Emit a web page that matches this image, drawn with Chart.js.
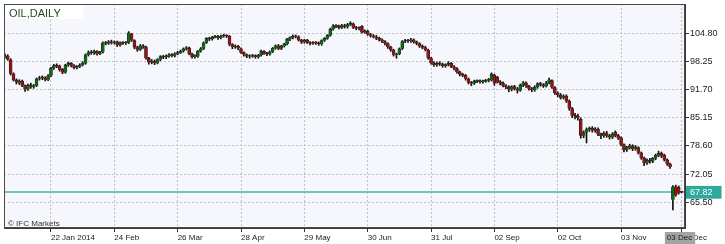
<!DOCTYPE html>
<html>
<head>
<meta charset="utf-8">
<title>OIL,DAILY</title>
<script src="https://cdn.jsdelivr.net/npm/chart.js@4.4.1/dist/chart.umd.min.js"></script>
<style>
  html, body { margin: 0; padding: 0; background: #ffffff; }
  canvas { display: block; }
</style>
</head>
<body>
<canvas id="oil" width="725" height="244"></canvas>
<script>
// daily candles, 30 Dec 2013 .. 03 Dec 2014
const opens = [
  99.2, 99.5, 98.6, 95.4, 93.9, 93.3, 93.7, 92.6, 91.8, 92.8,
  92.3, 92.6, 94.2, 94.5, 94.4, 94.0, 94.9, 96.7, 97.4, 97.2,
  96.4, 95.7, 97.4, 97.8, 97.3, 96.8, 97.0, 97.4, 97.8, 99.8,
  100.4, 100.2, 100.6, 100.0, 100.4, 102.6, 102.4, 102.8, 102.6, 102.8,
  102.0, 102.6, 102.5, 102.6, 104.6, 103.1, 101.5, 101.0, 101.9, 101.6,
  99.0, 98.0, 98.3, 97.9, 98.7, 99.4, 99.2, 99.5, 99.8, 99.6,
  100.0, 100.3, 100.6, 101.2, 101.4, 100.0, 99.3, 99.4, 100.6, 101.2,
  102.6, 103.6, 103.4, 103.9, 104.0, 103.7, 104.1, 104.3, 104.1, 102.2,
  101.6, 101.8, 101.2, 100.3, 99.8, 99.4, 99.4, 99.6, 99.3, 99.7,
  100.6, 100.1, 99.9, 100.5, 101.3, 101.9, 101.2, 101.8, 102.3, 103.4,
  103.8, 104.1, 104.0, 103.2, 102.7, 103.2, 102.6, 102.4, 102.6, 102.5,
  102.3, 103.1, 103.6, 104.3, 105.8, 106.5, 106.4, 106.1, 106.6, 106.3,
  106.8, 107.0, 106.1, 105.9, 106.4, 105.0, 105.3, 104.5, 104.2, 104.0,
  103.6, 103.3, 102.9, 102.4, 101.6, 100.9, 99.8, 100.0, 101.2, 102.9,
  103.1, 103.0, 103.3, 102.8, 102.4, 101.8, 101.5, 100.9, 99.0, 97.9,
  97.4, 97.8, 97.6, 97.2, 97.5, 97.8, 97.0, 96.6, 95.8, 95.2,
  95.0, 94.2, 93.3, 93.1, 93.6, 93.7, 93.5, 93.6, 93.8, 93.9,
  95.0, 94.6, 93.5, 93.2, 92.6, 92.3, 91.7, 92.4, 91.9, 91.5,
  92.7, 93.3, 92.5, 91.9, 91.6, 92.3, 93.1, 92.8, 92.5, 93.3,
  93.8, 92.2, 90.9, 90.4, 89.8, 90.2, 89.0, 87.3, 85.6, 85.5,
  84.8, 81.0, 81.7, 82.4, 82.7, 82.2, 82.5, 81.3, 80.9, 81.6,
  81.0, 80.6, 81.8, 81.0, 80.5, 78.9, 77.6, 78.2, 78.6, 77.9,
  78.2, 77.0, 75.8, 74.6, 75.3, 75.0, 75.7, 76.4, 76.9, 76.5,
  75.4, 74.4, 66.1, 69.1, 69.0, 67.9
];
const highs = [
  100.0, 99.8, 98.9, 95.6, 94.2, 94.0, 93.9, 92.8, 93.0, 93.2,
  92.9, 94.4, 94.8, 94.9, 94.7, 95.2, 96.9, 97.6, 97.7, 97.4,
  96.6, 97.6, 98.1, 98.0, 97.5, 97.3, 97.7, 98.2, 100.0, 100.7,
  100.8, 100.9, 100.8, 100.6, 102.8, 102.9, 103.1, 103.2, 103.0, 103.0,
  102.8, 102.9, 102.9, 105.2, 104.8, 103.3, 101.8, 102.2, 102.2, 101.8,
  99.2, 98.7, 98.6, 98.9, 99.6, 99.7, 99.8, 100.1, 100.1, 100.3,
  100.6, 100.9, 101.4, 101.7, 101.6, 100.2, 99.8, 100.8, 101.5, 102.8,
  103.8, 103.9, 104.1, 104.3, 104.3, 104.4, 104.6, 104.5, 104.3, 102.4,
  102.1, 102.0, 101.4, 100.5, 100.0, 99.8, 99.9, 99.8, 99.9, 100.9,
  100.8, 100.4, 100.7, 101.5, 102.1, 102.2, 102.0, 102.5, 103.6, 104.0,
  104.4, 104.4, 104.2, 103.4, 103.4, 103.4, 102.9, 102.9, 102.9, 102.8,
  103.3, 103.8, 104.5, 106.0, 106.8, 106.8, 106.7, 106.9, 106.9, 107.1,
  107.5, 107.2, 106.4, 106.3, 106.6, 105.6, 105.5, 104.8, 104.5, 104.3,
  103.9, 103.5, 103.1, 102.6, 101.8, 101.1, 100.2, 101.4, 103.1, 103.4,
  103.4, 103.6, 103.5, 103.0, 102.6, 102.1, 101.8, 101.1, 99.2, 98.2,
  98.1, 98.2, 97.9, 97.7, 98.2, 98.0, 97.3, 96.8, 96.0, 95.5,
  95.2, 94.4, 93.6, 93.9, 94.0, 94.0, 93.9, 94.1, 94.3, 95.6,
  95.3, 94.8, 93.8, 93.5, 92.9, 92.6, 92.6, 92.7, 92.2, 93.0,
  93.6, 93.5, 92.7, 92.2, 92.6, 93.3, 93.4, 93.1, 93.6, 94.4,
  94.0, 92.4, 91.2, 90.8, 90.5, 90.5, 89.3, 87.6, 86.2, 86.0,
  85.1, 82.1, 82.8, 83.0, 83.1, 82.9, 82.8, 81.6, 81.9, 82.0,
  81.3, 81.7, 82.1, 81.3, 80.7, 79.1, 78.5, 79.0, 78.9, 78.7,
  78.4, 77.2, 76.0, 75.6, 75.7, 75.9, 76.7, 77.4, 77.2, 76.7,
  75.6, 74.6, 69.4, 69.5, 69.3, 68.0
];
const lows = [
  99.0, 98.5, 95.1, 93.7, 93.0, 92.9, 92.4, 91.3, 91.5, 92.0,
  92.0, 92.4, 93.9, 94.0, 93.7, 93.8, 94.7, 96.4, 96.8, 96.0,
  95.4, 95.5, 97.1, 97.0, 96.5, 96.5, 96.8, 97.2, 97.6, 99.5,
  99.9, 99.9, 99.7, 99.8, 100.2, 102.1, 102.2, 102.3, 102.3, 101.7,
  101.8, 102.2, 102.2, 102.4, 102.9, 101.2, 100.6, 100.8, 101.3, 98.8,
  97.6, 97.7, 97.5, 97.7, 98.4, 98.9, 98.9, 99.2, 99.3, 99.3,
  99.8, 100.1, 100.4, 100.9, 99.8, 99.0, 99.0, 99.2, 100.4, 101.0,
  102.4, 103.1, 103.2, 103.7, 103.4, 103.5, 103.9, 103.8, 101.9, 101.2,
  101.3, 101.0, 100.1, 99.5, 99.1, 99.0, 99.2, 99.0, 99.0, 99.5,
  99.9, 99.6, 99.7, 100.3, 101.1, 101.0, 101.0, 101.6, 102.1, 103.1,
  103.5, 103.7, 103.0, 102.4, 102.5, 102.4, 102.1, 102.2, 102.2, 102.0,
  102.0, 102.9, 103.4, 104.1, 105.5, 106.1, 105.8, 105.9, 106.0, 106.0,
  106.6, 105.9, 105.6, 105.6, 104.8, 104.8, 104.3, 103.9, 103.7, 103.3,
  103.0, 102.6, 102.1, 101.3, 100.6, 99.5, 99.0, 99.8, 101.0, 102.6,
  102.7, 102.7, 102.5, 102.1, 101.5, 101.2, 100.7, 98.8, 97.6, 97.1,
  97.1, 97.3, 96.9, 96.9, 97.2, 96.8, 96.3, 95.5, 94.9, 94.7,
  93.9, 93.0, 92.6, 92.9, 93.3, 93.2, 93.2, 93.4, 93.5, 93.7,
  92.7, 93.2, 92.8, 92.3, 91.9, 91.2, 91.4, 91.6, 90.9, 91.3,
  92.4, 92.2, 91.6, 91.2, 91.3, 92.0, 92.5, 92.2, 92.3, 93.0,
  92.0, 90.6, 90.0, 89.5, 89.5, 88.7, 86.9, 85.2, 84.9, 84.6,
  80.4, 80.5, 79.3, 82.0, 81.8, 81.8, 81.0, 80.3, 80.6, 80.6,
  80.2, 80.3, 80.7, 80.1, 78.6, 77.2, 77.3, 77.9, 77.5, 77.6,
  76.7, 75.5, 74.0, 74.3, 74.6, 74.7, 75.4, 76.1, 75.9, 75.1,
  74.1, 73.4, 63.7, 66.9, 67.4, 67.7
];
const closes = [
  99.6, 98.7, 95.4, 93.9, 93.4, 93.7, 92.6, 91.7, 92.7, 92.4,
  92.6, 94.2, 94.4, 94.4, 94.0, 94.9, 96.7, 97.3, 97.1, 96.3,
  95.7, 97.4, 97.8, 97.3, 96.8, 97.0, 97.4, 97.9, 99.8, 100.3,
  100.2, 100.6, 100.0, 100.3, 102.6, 102.4, 102.8, 102.6, 102.8, 102.0,
  102.6, 102.5, 102.6, 104.9, 103.1, 101.5, 101.0, 101.9, 101.6, 99.0,
  98.0, 98.3, 97.9, 98.7, 99.4, 99.2, 99.5, 99.8, 99.6, 100.0,
  100.3, 100.6, 101.2, 101.3, 100.0, 99.3, 99.4, 100.6, 101.2, 102.6,
  103.6, 103.4, 103.9, 104.0, 103.7, 104.1, 104.3, 104.1, 102.2, 101.6,
  101.8, 101.3, 100.3, 99.8, 99.4, 99.4, 99.6, 99.3, 99.7, 100.6,
  100.1, 99.9, 100.5, 101.3, 101.9, 101.2, 101.8, 102.3, 103.4, 103.8,
  104.1, 104.0, 103.2, 102.7, 103.2, 102.6, 102.4, 102.6, 102.5, 102.3,
  103.1, 103.6, 104.3, 105.8, 106.5, 106.4, 106.1, 106.6, 106.3, 106.8,
  107.1, 106.1, 105.9, 106.0, 105.0, 105.3, 104.5, 104.2, 104.0, 103.6,
  103.3, 102.9, 102.4, 101.6, 100.9, 99.8, 99.9, 101.2, 102.9, 103.1,
  103.0, 103.3, 102.8, 102.4, 101.8, 101.5, 101.0, 99.0, 97.9, 97.4,
  97.8, 97.6, 97.2, 97.5, 97.8, 97.0, 96.6, 95.8, 95.2, 95.0,
  94.2, 93.3, 93.1, 93.6, 93.7, 93.5, 93.6, 93.8, 94.0, 95.3,
  93.2, 93.5, 93.2, 92.6, 92.3, 91.7, 92.4, 91.9, 91.5, 92.7,
  93.3, 92.5, 91.9, 91.6, 92.3, 93.1, 92.8, 92.5, 93.3, 94.0,
  92.2, 90.9, 90.4, 89.8, 90.2, 89.0, 87.3, 85.6, 85.5, 85.1,
  81.0, 81.7, 82.4, 82.7, 82.2, 82.5, 81.3, 80.9, 81.6, 81.0,
  80.6, 81.4, 81.0, 80.4, 78.9, 77.6, 78.2, 78.6, 77.9, 78.4,
  77.0, 75.8, 74.6, 75.3, 75.0, 75.7, 76.4, 76.9, 76.2, 75.4,
  74.4, 73.7, 69.1, 67.2, 67.7, 67.82
];

// x axis labels and the bar each one sits on
const tickLabels = ['22 Jan 2014', '24 Feb', '26 Mar', '28 Apr', '29 May', '30 Jun',
                    '31 Jul', '02 Sep', '02 Oct', '03 Nov', '03 Dec'];
const tickBars = [16, 38, 60, 82, 104, 126, 148, 170, 192, 214, 235];

// price axis
const priceTicks = [65.50, 72.05, 78.60, 85.15, 91.70, 98.25, 104.80];
const lastPrice = 67.82;
const lastDate = '03 Dec';

const FONT = '"Liberation Sans", Arial, sans-serif';
const UP = '#0f6a18';
const DOWN = '#9a1212';
const lastBar = closes.length - 1;

const isMarker = (c) => !!(c.tick && c.tick.marker);

const frame = {
    id: 'frame',
    beforeDraw(chart) {
        const { ctx, chartArea: a } = chart;
        ctx.save();
        ctx.fillStyle = '#f6f7fc';
        ctx.fillRect(a.left, a.top, a.right - a.left, a.bottom - a.top);
        ctx.restore();
    },
    afterDraw(chart) {
        const { ctx, chartArea: a } = chart;
        ctx.save();
        ctx.strokeStyle = '#4a4a4a';
        ctx.lineWidth = 1;
        ctx.strokeRect(a.left + 0.5, a.top + 0.5, a.right - a.left - 1, a.bottom - a.top - 1);
        // title box
        ctx.fillStyle = '#ffffff';
        ctx.fillRect(a.left + 1, a.top + 1, 78, 14);
        ctx.fillStyle = '#1f4d1f';
        ctx.font = '11px ' + FONT;
        ctx.textBaseline = 'alphabetic';
        ctx.fillText('OIL,DAILY', a.left + 5, a.top + 13);
        ctx.fillStyle = '#333333';
        ctx.font = '8px ' + FONT;
        ctx.fillText('\u00A9 IFC Markets', a.left + 4, a.bottom - 2);
        ctx.restore();
    }
};

const bodies = closes.map((c, i) => ({ x: i, y: [opens[i], c] }));
const wicks = closes.map((c, i) => ({ x: i, y: [lows[i], highs[i]] }));

const chart = new Chart(document.getElementById('oil'), {
    type: 'bar',
    data: {
        datasets: [{
            label: 'body',
            data: bodies,
            backgroundColor: closes.map((c, i) => c >= opens[i] ? UP : DOWN),
            borderColor: '#1c1c1c',
            borderWidth: 0.6,
            barThickness: 3,
            minBarLength: 1,
            order: 0
        }, {
            label: 'wick',
            data: wicks,
            backgroundColor: '#111111',
            barThickness: 1,
            order: 1
        }]
    },
    options: {
        responsive: false,
        animation: false,
        devicePixelRatio: 1,
        grouped: false,
        layout: { padding: { left: 4, top: 4, right: 0, bottom: 0 } },
        plugins: {
            legend: { display: false },
            title: { display: false },
            tooltip: { enabled: false }
        },
        scales: {
            x: {
                type: 'linear',
                min: -0.31,
                max: 236.2,
                bounds: 'data',
                offset: false,
                afterBuildTicks: (s) => {
                    s.ticks = tickBars.map((v, k) => ({ value: v, text: tickLabels[k] }));
                    s.ticks.push({ value: lastBar - 5.1, text: lastDate, marker: true });
                },
                afterFit: (s) => {
                    s.height = 16;
                    s.paddingLeft = 0;
                    s.paddingRight = 0;
                },
                ticks: {
                    autoSkip: false,
                    maxRotation: 0,
                    minRotation: 0,
                    align: 'start',
                    padding: 1,
                    color: '#1a1a1a',
                    font: { family: FONT, size: 8 },
                    callback: (v, i, ticks) => ticks[i].text,
                    showLabelBackdrop: isMarker,
                    backdropColor: '#a3a3a3',
                    backdropPadding: { left: 2, right: 3, top: 1, bottom: 2 }
                },
                grid: {
                    offset: false,
                    color: (c) => isMarker(c) ? 'rgba(0,0,0,0)' : '#c2c2c2',
                    tickColor: (c) => isMarker(c) ? 'rgba(0,0,0,0)' : '#333333',
                    tickLength: 4
                },
                border: { color: '#3a3a3a', dash: [2, 2] }
            },
            y: {
                type: 'linear',
                position: 'right',
                min: 59.52,
                max: 111.61,
                bounds: 'data',
                beginAtZero: false,
                afterBuildTicks: (s) => {
                    s.ticks = priceTicks.map(v => ({ value: v }));
                    s.ticks.push({ value: lastPrice, marker: true });
                },
                afterFit: (s) => {
                    s.width = 40;
                    s.paddingTop = 0;
                    s.paddingBottom = 0;
                },
                ticks: {
                    padding: 1,
                    font: { family: FONT, size: 9 },
                    color: (c) => isMarker(c) ? '#ffffff' : '#1a1a1a',
                    callback: (v) => Number(v).toFixed(2),
                    showLabelBackdrop: isMarker,
                    backdropColor: '#2ea99c',
                    backdropPadding: { left: 4, right: 9, top: 1, bottom: 1 }
                },
                grid: {
                    color: (c) => isMarker(c) ? '#72c7bd' : '#c2c2c2',
                    lineWidth: (c) => isMarker(c) ? 2 : 1,
                    tickColor: '#333333',
                    tickLength: 4
                },
                border: {
                    color: '#3a3a3a',
                    dash: (c) => isMarker(c) ? [] : [2, 2]
                }
            }
        }
    },
    plugins: [frame]
});
</script>
</body>
</html>
